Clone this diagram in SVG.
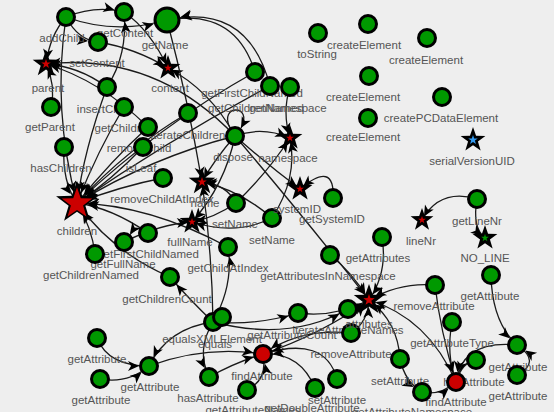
<svg xmlns="http://www.w3.org/2000/svg" xmlns:xlink="http://www.w3.org/1999/xlink" width="554" height="412" viewBox="0 0 554 412">
<style>
  .bg{fill:#eeeeee}
  .e{fill:none;stroke:#1a1a1a;stroke-width:1.3}
  .c{marker-end:url(#mc)}
  .s{marker-end:url(#ms)}
  .b{marker-end:url(#mb)}
  .h{marker-end:url(#mh)}
  .a{marker-end:url(#ma)}
  .l{marker-end:url(#m0)}
  .m{fill:#009900;stroke:#000;stroke-width:3}
  .r{fill:#cc0000;stroke:#000;stroke-width:3}
  .sk{fill:#000}
  .sr{fill:#cc0000}
  .sg{fill:#009900}
  .sb{fill:#3399ee}
  text{font-family:"Liberation Sans",Arial,sans-serif;font-size:11.5px;fill:#555;text-anchor:middle}
</style>
<defs>
  <polygon id="star" points="0,-1 0.235,-0.324 0.951,-0.309 0.380,0.124 0.588,0.809 0,0.4 -0.588,0.809 -0.380,0.124 -0.951,-0.309 -0.235,-0.324"/>
  <marker id="mc" markerUnits="userSpaceOnUse" markerWidth="12" markerHeight="10" viewBox="0 0 12 10" refX="21" refY="5" orient="auto" overflow="visible"><path d="M0,0 L11,5 L0,10 L3,5 z" fill="#000"/></marker>
  <marker id="ms" markerUnits="userSpaceOnUse" markerWidth="12" markerHeight="10" viewBox="0 0 12 10" refX="15" refY="5" orient="auto" overflow="visible"><path d="M0,0 L11,5 L0,10 L3,5 z" fill="#000"/></marker>
  <marker id="mb" markerUnits="userSpaceOnUse" markerWidth="12" markerHeight="10" viewBox="0 0 12 10" refX="25" refY="5" orient="auto" overflow="visible"><path d="M0,0 L11,5 L0,10 L3,5 z" fill="#000"/></marker>
  <marker id="mh" markerUnits="userSpaceOnUse" markerWidth="12" markerHeight="10" viewBox="0 0 12 10" refX="22" refY="5" orient="auto" overflow="visible"><path d="M0,0 L11,5 L0,10 L3,5 z" fill="#000"/></marker>
  <marker id="ma" markerUnits="userSpaceOnUse" markerWidth="12" markerHeight="10" viewBox="0 0 12 10" refX="18" refY="5" orient="auto" overflow="visible"><path d="M0,0 L11,5 L0,10 L3,5 z" fill="#000"/></marker>
  <marker id="m0" markerUnits="userSpaceOnUse" markerWidth="12" markerHeight="10" viewBox="0 0 12 10" refX="11" refY="5" orient="auto" overflow="visible"><path d="M0,0 L11,5 L0,10 L3,5 z" fill="#000"/></marker>
</defs>
<rect class="bg" x="0" y="0" width="554" height="412"/>

<g id="edges">
  <!-- fields: parent / content -->
  <path class="e s" d="M66,17 Q50,35 46,64"/>
  <path class="e s" d="M51,107 Q56,86 46,64"/>
  <path class="e s" d="M107,87 Q78,66 46,64"/>
  <path class="e s" d="M148,127 Q100,80 46,64"/>
  <path class="e s" d="M235,136 Q155,52 46,64"/>
  <path class="e s" d="M124,12 Q150,30 168,68"/>
  <path class="e s" d="M98,42 Q135,48 168,68"/>
  <path class="e s" d="M235,136 Q210,90 168,68"/>
  <!-- calls in the top-left cluster -->
  <path class="e b" d="M66,17 Q115,35 167,20"/>
  <path class="e c" d="M66,17 Q78,40 98,42"/>
  <path class="e b" d="M255,72 Q235,8 167,20"/>
  <path class="e b" d="M270,86 Q248,2 167,20"/>
  <path class="e c" d="M107,87 Q128,55 124,12"/>
  <path class="e c" d="M66,17 Q95,5 124,12"/>
  <!-- children -->
  <path class="e h" d="M66,17 Q52,110 77,203"/>
  <path class="e h" d="M107,87 Q84,150 77,203"/>
  <path class="e h" d="M124,107 Q98,150 77,203"/>
  <path class="e h" d="M148,127 Q112,160 77,203"/>
  <path class="e h" d="M143,147 Q112,180 77,203"/>
  <path class="e h" d="M64,147 Q62,182 77,203"/>
  <path class="e h" d="M188,113 Q128,148 77,203"/>
  <path class="e h" d="M163,178 Q122,186 77,203"/>
  <path class="e h" d="M255,72 Q160,125 77,203"/>
  <path class="e h" d="M270,86 Q172,138 77,203"/>
  <path class="e h" d="M235,136 Q150,158 77,203"/>
  <path class="e h" d="M228,247 Q150,205 77,203"/>
  <path class="e h" d="M170,277 Q112,252 77,203"/>
  <path class="e h" d="M148,233 Q112,208 77,203"/>
  <path class="e h" d="M95,254 Q92,228 77,203"/>
  <!-- name / fullName / namespace / systemID -->
  <path class="e s" d="M167,20 Q188,100 202,182"/>
  <path class="e s" d="M236,203 Q226,184 202,182"/>
  <path class="e s" d="M272,218 Q240,190 202,182"/>
  <path class="e s" d="M235,136 Q214,160 202,182"/>
  <path class="e s" d="M124,242 Q160,224 192,222"/>
  <path class="e s" d="M236,203 Q214,218 192,222"/>
  <path class="e s" d="M272,218 Q236,236 192,222"/>
  <path class="e s" d="M235,136 Q225,185 192,222"/>
  <path class="e c" d="M148,233 Q140,220 124,242"/>
  <path class="e s" d="M290,87 Q282,112 290,138"/>
  <path class="e s" d="M236,203 Q268,172 290,138"/>
  <path class="e s" d="M272,218 Q298,178 290,138"/>
  <path class="e s" d="M235,136 Q262,126 290,138"/>
  <path class="e s" d="M333,198 Q335,160 300,189"/>
  <path class="e s" d="M235,136 Q268,165 300,189"/>
  <path class="e l" d="M230,128 C218,104 254,104 241,128"/>
  <!-- lineNr / NO_LINE -->
  <path class="e s" d="M477,199 Q440,188 422,220"/>
  <path class="e s" d="M477,199 Q472,228 485,238"/>
  <!-- attributes -->
  <path class="e a" d="M382,237 Q388,272 369,300"/>
  <path class="e a" d="M330,255 Q352,272 369,300"/>
  <path class="e a" d="M348,309 Q358,312 369,300"/>
  <path class="e a" d="M298,313 Q334,318 369,300"/>
  <path class="e a" d="M435,285 Q400,282 369,300"/>
  <path class="e a" d="M351,333 Q368,322 369,300"/>
  <path class="e a" d="M400,359 Q398,322 369,300"/>
  <path class="e a" d="M263,354 Q322,334 369,300"/>
  <path class="e a" d="M456,382 Q428,318 369,300"/>
  <path class="e a" d="M235,136 Q300,212 369,300"/>
  <!-- equalsXMLElement -->
  <path class="e c" d="M213,322 Q234,285 228,247"/>
  <path class="e c" d="M213,322 Q188,298 170,277"/>
  <path class="e s" d="M213,322 Q212,250 202,182"/>
  <path class="e c" d="M213,322 Q255,326 298,313"/>
  <path class="e c" d="M213,322 Q290,342 348,309"/>
  <path class="e c" d="M213,322 Q168,328 149,366"/>
  <path class="e c" d="M213,322 Q196,350 209,377"/>
  <!-- findAttribute -->
  <path class="e c" d="M209,377 Q236,362 263,354"/>
  <path class="e c" d="M247,390 Q268,380 263,354"/>
  <path class="e c" d="M149,366 Q205,345 263,354"/>
  <path class="e c" d="M315,388 Q300,352 263,354"/>
  <path class="e c" d="M337,379 Q325,335 263,354"/>
  <path class="e c" d="M351,333 Q300,328 263,354"/>
  <path class="e c" d="M97,338 Q108,366 149,366"/>
  <path class="e c" d="M100,379 Q128,384 149,366"/>
  <path class="e c" d="M452,322 Q446,355 456,382"/>
  <path class="e c" d="M476,360 Q462,362 456,382"/>
  <path class="e c" d="M422,392 Q440,396 456,382"/>
  <path class="e c" d="M517,345 Q462,340 456,382"/>
  <path class="e c" d="M435,285 Q440,330 456,382"/>
  <path class="e c" d="M400,359 Q405,382 422,392"/>
  <path class="e c" d="M491,275 Q492,322 517,345"/>
  <path class="e c" d="M517,375 Q542,362 517,345"/>
</g>

<!-- method nodes -->
<g id="addChild"><text x="62" y="42">addChild</text><circle class="m" cx="66" cy="17" r="8.5"/></g>
<g id="getContent"><text x="125" y="37">getContent</text><circle class="m" cx="124" cy="12" r="8.5"/></g>
<g id="getName"><text x="165" y="49">getName</text><circle class="m" cx="167" cy="20" r="12"/></g>
<g id="setContent"><text x="97" y="67">setContent</text><circle class="m" cx="98" cy="42" r="8.5"/></g>
<g id="insertChild"><text x="104" y="113">insertChild</text><circle class="m" cx="107" cy="87" r="8.5"/></g>
<g id="getParent"><text x="50" y="131">getParent</text><circle class="m" cx="51" cy="107" r="8.5"/></g>
<g id="getChildren"><text x="124" y="132">getChildren</text><circle class="m" cx="124" cy="107" r="8.5"/></g>
<g id="iterateChildren"><text x="188" y="139">iterateChildren</text><circle class="m" cx="188" cy="113" r="8.5"/></g>
<g id="removeChild"><text x="139" y="152">removeChild</text><circle class="m" cx="148" cy="127" r="8.5"/></g>
<g id="isLeaf"><text x="141" y="172">isLeaf</text><circle class="m" cx="143" cy="147" r="8.5"/></g>
<g id="hasChildren"><text x="61" y="172">hasChildren</text><circle class="m" cx="64" cy="147" r="8.5"/></g>
<g id="removeChildAtIndex"><text x="162" y="203">removeChildAtIndex</text><circle class="m" cx="163" cy="178" r="8.5"/></g>
<g id="getFirstChildNamed2"><text x="148" y="258">getFirstChildNamed</text><circle class="m" cx="148" cy="233" r="8.5"/></g>
<g id="getFullName"><text x="123" y="268">getFullName</text><circle class="m" cx="124" cy="242" r="8.5"/></g>
<g id="getChildrenNamed2"><text x="91" y="279">getChildrenNamed</text><circle class="m" cx="95" cy="254" r="8.5"/></g>
<g id="getChildrenCount"><text x="167" y="303">getChildrenCount</text><circle class="m" cx="170" cy="277" r="8.5"/></g>
<g id="getFirstChildNamed"><text x="252" y="97">getFirstChildNamed</text><circle class="m" cx="255" cy="72" r="8.5"/></g>
<g id="getChildrenNamed"><text x="256" y="112">getChildrenNamed</text><circle class="m" cx="270" cy="86" r="8.5"/></g>
<g id="getNamespace"><text x="288" y="112">getNamespace</text><circle class="m" cx="290" cy="87" r="8.5"/></g>
<g id="toString"><text x="317" y="58">toString</text><circle class="m" cx="318" cy="33" r="8.5"/></g>
<g id="dispose"><text x="233" y="161">dispose</text><circle class="m" cx="235" cy="136" r="8.5"/></g>
<g id="setName"><text x="235" y="228">setName</text><circle class="m" cx="236" cy="203" r="8.5"/></g>
<g id="setName2"><text x="272" y="244">setName</text><circle class="m" cx="272" cy="218" r="8.5"/></g>
<g id="getSystemID"><text x="332" y="223">getSystemID</text><circle class="m" cx="333" cy="198" r="8.5"/></g>
<g id="getChildAtIndex"><text x="228" y="272">getChildAtIndex</text><circle class="m" cx="228" cy="247" r="8.5"/></g>
<g id="getAttributesInNamespace"><text x="328" y="280">getAttributesInNamespace</text><circle class="m" cx="330" cy="255" r="8.5"/></g>
<g id="getAttributes"><text x="378" y="262">getAttributes</text><circle class="m" cx="382" cy="237" r="8.5"/></g>
<g id="createElement1"><text x="364" y="49">createElement</text><circle class="m" cx="368" cy="24" r="8.5"/></g>
<g id="createElement2"><text x="426" y="64">createElement</text><circle class="m" cx="427" cy="38" r="8.5"/></g>
<g id="createElement3"><text x="363" y="101">createElement</text><circle class="m" cx="369" cy="76" r="8.5"/></g>
<g id="createPCDataElement"><text x="441" y="122">createPCDataElement</text><circle class="m" cx="442" cy="97" r="8.5"/></g>
<g id="createElement4"><text x="363" y="141">createElement</text><circle class="m" cx="368" cy="118" r="8.5"/></g>
<g id="getLineNr"><text x="477" y="225">getLineNr</text><circle class="m" cx="477" cy="199" r="8.5"/></g>
<g id="getAttribute1"><text x="490" y="300">getAttribute</text><circle class="m" cx="491" cy="275" r="8.5"/></g>
<g id="removeAttribute"><text x="434" y="310">removeAttribute</text><circle class="m" cx="435" cy="285" r="8.5"/></g>
<g id="iterateAttributeNames"><text x="348" y="334">iterateAttributeNames</text><circle class="m" cx="348" cy="309" r="8.5"/></g>
<g id="getAttributeCount"><text x="292" y="339">getAttributeCount</text><circle class="m" cx="298" cy="313" r="8.5"/></g>
<g id="equalsXMLElement"><text x="212" y="343">equalsXMLElement</text><circle class="m" cx="213" cy="322" r="8.5"/></g>
<g id="equals"><text x="215" y="348">equals</text><circle class="m" cx="222" cy="317" r="8.5"/></g>
<g id="removeAttribute2"><text x="351" y="358">removeAttribute</text><circle class="m" cx="351" cy="333" r="8.5"/></g>
<g id="getAttributeType"><text x="452" y="347">getAttributeType</text><circle class="m" cx="452" cy="322" r="8.5"/></g>
<g id="getAttribute2"><text x="518" y="371">getAttribute</text><circle class="m" cx="517" cy="345" r="8.5"/></g>
<g id="getAttribute3"><text x="518" y="400">getAttribute</text><circle class="m" cx="517" cy="375" r="8.5"/></g>
<g id="setAttribute"><text x="400" y="385">setAttribute</text><circle class="m" cx="400" cy="359" r="8.5"/></g>
<g id="hasAttribute2"><text x="474" y="386">hasAttribute</text><circle class="m" cx="476" cy="360" r="8.5"/></g>
<g id="findAttribute2"><text x="456" y="406">findAttribute</text><circle class="r" cx="456" cy="382" r="8.5"/></g>
<g id="getAttributeNamespace"><text x="412" y="416">getAttributeNamespace</text><circle class="m" cx="422" cy="392" r="8.5"/></g>
<g id="findAttribute"><text x="262" y="380">findAttribute</text><circle class="r" cx="263" cy="354" r="8.5"/></g>
<g id="hasAttribute"><text x="208" y="402">hasAttribute</text><circle class="m" cx="209" cy="377" r="8.5"/></g>
<g id="getAttributeNames"><text x="253" y="414">getAttributeNames</text><circle class="m" cx="247" cy="390" r="8.5"/></g>
<g id="getDoubleAttribute"><text x="312" y="412">getDoubleAttribute</text><circle class="m" cx="315" cy="388" r="8.5"/></g>
<g id="setAttribute2"><text x="337" y="404">setAttribute</text><circle class="m" cx="337" cy="379" r="8.5"/></g>
<g id="getAttribute4"><text x="97" y="363">getAttribute</text><circle class="m" cx="97" cy="338" r="8.5"/></g>
<g id="getAttribute5"><text x="150" y="391">getAttribute</text><circle class="m" cx="149" cy="366" r="8.5"/></g>
<g id="getAttribute6"><text x="101" y="404">getAttribute</text><circle class="m" cx="100" cy="379" r="8.5"/></g>

<!-- field nodes -->
<g id="parent"><text x="48" y="92">parent</text><use href="#star" class="sk" transform="translate(46,64) scale(14)"/><use href="#star" class="sr" transform="translate(46,64) scale(5)"/></g>
<g id="content"><text x="170" y="92">content</text><use href="#star" class="sk" transform="translate(168,68) scale(13)"/><use href="#star" class="sr" transform="translate(168,68) scale(4)"/></g>
<g id="children"><text x="77" y="235">children</text><use href="#star" class="sk" transform="translate(77,203) scale(22)"/><use href="#star" class="sr" transform="translate(77,203.5) scale(16)"/></g>
<g id="namespace"><text x="288" y="162">namespace</text><use href="#star" class="sk" transform="translate(290,138) scale(13)"/><use href="#star" class="sr" transform="translate(290,138) scale(4)"/></g>
<g id="name"><text x="205" y="207">name</text><use href="#star" class="sk" transform="translate(202,182) scale(14)"/><use href="#star" class="sr" transform="translate(202,182) scale(5)"/></g>
<g id="fullName"><text x="190" y="246">fullName</text><use href="#star" class="sk" transform="translate(192,222) scale(13)"/><use href="#star" class="sr" transform="translate(192,222) scale(4)"/></g>
<g id="systemID"><text x="297" y="213">systemID</text><use href="#star" class="sk" transform="translate(300,189) scale(13)"/><use href="#star" class="sr" transform="translate(300,189) scale(4)"/></g>
<g id="serialVersionUID"><text x="472" y="165">serialVersionUID</text><use href="#star" class="sk" transform="translate(473,140) scale(13)"/><use href="#star" class="sb" transform="translate(473,140) scale(5)"/></g>
<g id="lineNr"><text x="421" y="245">lineNr</text><use href="#star" class="sk" transform="translate(422,220) scale(12)"/><use href="#star" class="sr" transform="translate(422,220) scale(4)"/></g>
<g id="NO_LINE"><text x="485" y="262">NO_LINE</text><use href="#star" class="sk" transform="translate(485,238) scale(13)"/><use href="#star" class="sg" transform="translate(485,238) scale(4)"/></g>
<g id="attributes"><text x="369" y="328">attributes</text><use href="#star" class="sk" transform="translate(369,300) scale(16)"/><use href="#star" class="sr" transform="translate(369,300) scale(6)"/></g>
</svg>
